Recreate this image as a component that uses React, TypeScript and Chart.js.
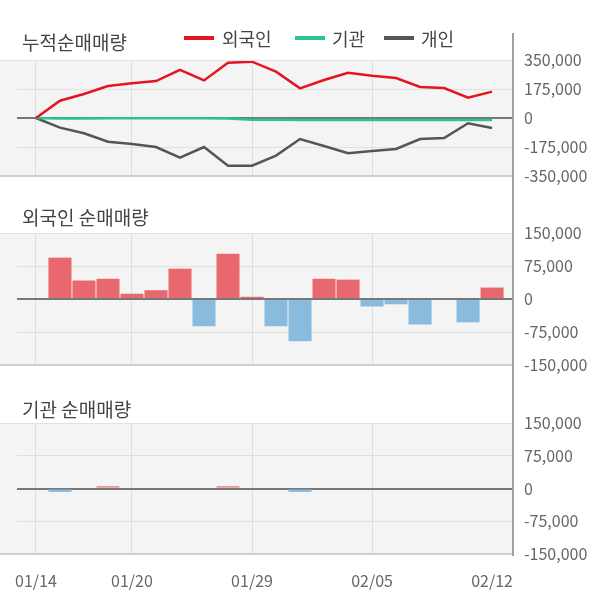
import React, { useEffect, useRef } from 'react';
import { Chart, registerables } from 'chart.js';
Chart.register(...registerables);

const dates = ['01/14','01/15','01/16','01/17','01/20','01/21','01/22','01/23','01/28','01/29','01/30','01/31','02/03','02/04','02/05','02/06','02/07','02/10','02/11','02/12'];
const tickIdx = [0, 4, 9, 14, 19];

const foreignCum = [0,104000,145000,193000,209000,223000,290000,227000,334000,340000,280000,179000,229000,273000,255000,241000,187000,181000,123000,159000];
const instCum = [0,-3000,-3000,-2000,-2000,-2000,-2000,-2000,-3000,-11000,-11000,-12000,-12000,-12000,-12000,-12000,-12000,-12000,-12000,-12000];
const indivCum = [0,-58000,-92000,-143000,-157000,-175000,-239000,-175000,-288000,-288000,-227000,-127000,-169000,-213000,-199000,-187000,-127000,-121000,-32000,-60000];

const foreignNet = [null,94000,42000,46000,12000,20000,69000,-62000,103000,5000,-62000,-96000,46000,44000,-17000,-12000,-58000,0,-53000,26000];
const instNet = [null,-8000,0,5000,0,0,0,0,5000,0,0,-8000,0,0,0,0,0,0,0,0];

const cumTicks = { min: -350000, max: 350000, step: 175000 };
const netTicks = { min: -150000, max: 150000, step: 75000 };

const FONT = '"Noto Sans CJK KR", "Noto Sans", sans-serif';
const RED = '#e4151f';
const GREEN = '#2bc48c';
const DARK = '#555555';
const BAR_RED = '#e8686d';
const BAR_BLUE = '#8bbadf';

const X_MIN = -0.79;
const X_MAX = 19.83;

const bgPlugin = {
  id: 'panelBg',
  beforeDraw(chart: any) {
    const { ctx, chartArea } = chart;
    ctx.save();
    ctx.fillStyle = '#f4f4f4';
    ctx.fillRect(0, chartArea.top, chartArea.right, chartArea.bottom - chartArea.top);
    ctx.restore();
  },
  afterDraw(chart: any) {
    const { ctx, chartArea } = chart;
    ctx.save();
    ctx.strokeStyle = '#e2e2e2';
    ctx.lineWidth = 1;
    ctx.beginPath();
    ctx.moveTo(0, chartArea.top + 0.5);
    ctx.lineTo(chartArea.right, chartArea.top + 0.5);
    ctx.stroke();
    ctx.strokeStyle = '#cfcfcf';
    ctx.lineWidth = 2;
    ctx.beginPath();
    ctx.moveTo(0, chartArea.bottom);
    ctx.lineTo(chartArea.right, chartArea.bottom);
    ctx.stroke();
    ctx.restore();
  },
};

function makeOptions(range: { min: number; max: number; step: number }, showX: boolean): any {
  return {
    responsive: false,
    maintainAspectRatio: false,
    animation: false,
    layout: { padding: { left: 17, right: 0, top: 10, bottom: showX ? 0 : 10 } },
    plugins: { legend: { display: false }, tooltip: { enabled: false } },
    scales: {
      x: {
        type: 'linear',
        min: X_MIN,
        max: X_MAX,
        offset: false,
        afterBuildTicks: (s: any) => {
          s.ticks = tickIdx.map((v) => ({ value: v }));
        },
        afterFit: (s: any) => {
          s.height = showX ? 50 : 0;
          s.paddingLeft = 0;
          s.paddingRight = 0;
        },
        grid: {
          offset: false,
          drawTicks: false,
          color: (c: any) => (c.tick && c.tick.value === 19 ? 'rgba(0,0,0,0)' : '#dedede'),
          lineWidth: 1,
        },
        border: { display: false },
        ticks: {
          display: showX,
          padding: 17,
          autoSkip: false,
          maxRotation: 0,
          font: { family: FONT, size: 16 },
          color: '#666',
          callback: (v: any) => dates[v] ?? '',
        },
      },
      y: {
        position: 'right',
        min: range.min,
        max: range.max,
        afterFit: (s: any) => {
          s.width = 88;
          s.paddingTop = 0;
          s.paddingBottom = 0;
        },
        grid: {
          drawTicks: false,
          color: (c: any) => (c.tick && c.tick.value === 0 ? '#777' : '#e0e0e0'),
          lineWidth: (c: any) => (c.tick && c.tick.value === 0 ? 2 : 1),
        },
        border: { display: false },
        ticks: {
          stepSize: range.step,
          padding: 12,
          font: { family: FONT, size: 16 },
          color: '#666',
          callback: (v: any) => Number(v).toLocaleString('en-US'),
        },
      },
    },
  };
}

function toXY(arr: (number | null)[]) {
  return arr.map((v, i) => ({ x: i, y: v }));
}

function useChart(ref: React.RefObject<HTMLCanvasElement>, build: () => any) {
  useEffect(() => {
    if (!ref.current) return;
    const chart = new Chart(ref.current, build());
    return () => chart.destroy();
  }, []);
}

export default function App() {
  const c1 = useRef<HTMLCanvasElement>(null);
  const c2 = useRef<HTMLCanvasElement>(null);
  const c3 = useRef<HTMLCanvasElement>(null);

  useChart(c1, () => ({
    type: 'line',
    data: {
      datasets: [
        { label: '외국인', data: toXY(foreignCum), borderColor: RED, borderWidth: 2.5, pointRadius: 0, tension: 0, fill: false },
        { label: '기관', data: toXY(instCum), borderColor: GREEN, borderWidth: 2.5, pointRadius: 0, tension: 0, fill: false },
        { label: '개인', data: toXY(indivCum), borderColor: DARK, borderWidth: 2.5, pointRadius: 0, tension: 0, fill: false },
      ],
    },
    options: makeOptions(cumTicks, false),
    plugins: [bgPlugin],
  }));

  const barColor = (ctx: any) => ((ctx.raw && ctx.raw.y) >= 0 ? BAR_RED : BAR_BLUE);

  useChart(c2, () => ({
    type: 'bar',
    data: {
      datasets: [
        { label: '외국인', data: toXY(foreignNet), backgroundColor: barColor, categoryPercentage: 0.96, barPercentage: 1 },
      ],
    },
    options: makeOptions(netTicks, false),
    plugins: [bgPlugin],
  }));

  useChart(c3, () => ({
    type: 'bar',
    data: {
      datasets: [
        { label: '기관', data: toXY(instNet), backgroundColor: barColor, categoryPercentage: 0.96, barPercentage: 1 },
      ],
    },
    options: makeOptions(netTicks, true),
    plugins: [bgPlugin],
  }));

  const canvasStyle = (top: number, h: number): React.CSSProperties => ({
    position: 'absolute', left: 0, top, width: 600, height: h, display: 'block',
  });
  const title: React.CSSProperties = {
    position: 'absolute', left: 22, fontFamily: FONT, fontSize: 19, lineHeight: '22px', color: '#444', whiteSpace: 'nowrap',
  };
  const legText: React.CSSProperties = {
    position: 'absolute', top: 27, fontFamily: FONT, fontSize: 18, lineHeight: '22px', color: '#444', whiteSpace: 'nowrap',
  };
  const legLine = (left: number, color: string): React.CSSProperties => ({
    position: 'absolute', left, top: 36, width: 30, height: 4, background: color,
  });

  return (
    <div style={{ position: 'fixed', left: 0, top: 0, width: 600, height: 604, background: '#fff', overflow: 'hidden' }}>
      <canvas ref={c1} width={600} height={136} style={canvasStyle(50, 136)} />
      <canvas ref={c2} width={600} height={152} style={canvasStyle(223, 152)} />
      <canvas ref={c3} width={600} height={191} style={canvasStyle(413, 191)} />
      <div style={{ ...title, top: 31 }}>누적순매매량</div>
      <div style={{ ...title, top: 206 }}>외국인 순매매량</div>
      <div style={{ ...title, top: 398 }}>기관 순매매량</div>
      <div style={legLine(184, RED)} />
      <div style={{ ...legText, left: 222 }}>외국인</div>
      <div style={legLine(295, GREEN)} />
      <div style={{ ...legText, left: 332 }}>기관</div>
      <div style={legLine(384, DARK)} />
      <div style={{ ...legText, left: 421 }}>개인</div>
      <div style={{ position: 'absolute', left: 512, top: 33, width: 2, height: 523, background: '#a0a0a0' }} />
    </div>
  );
}
